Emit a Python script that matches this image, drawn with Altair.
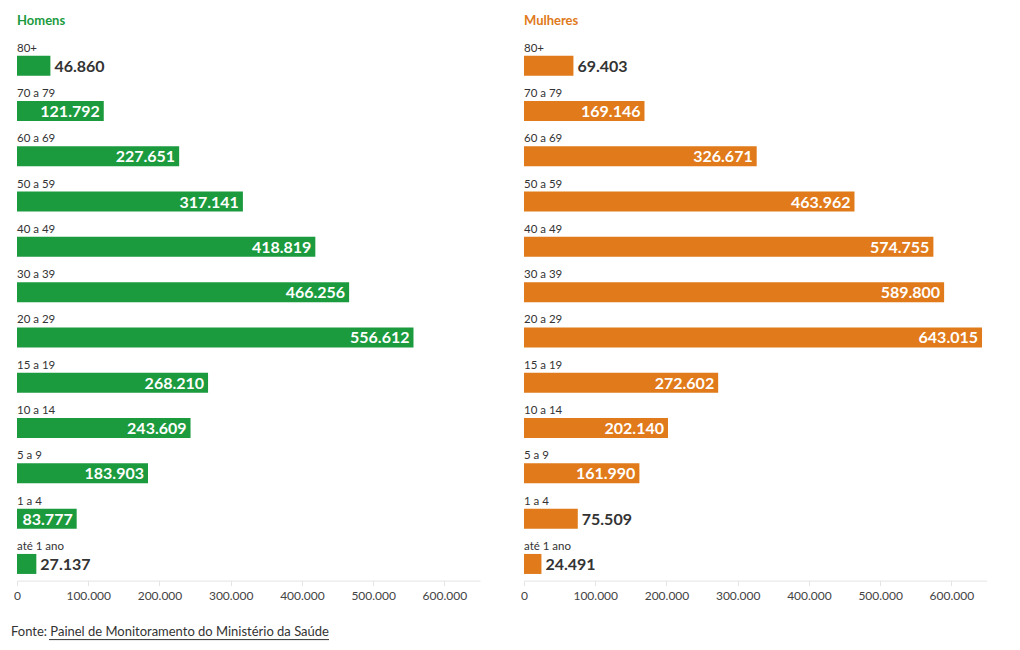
import altair as alt
import pandas as pd

ages = ["80+", "70 a 79", "60 a 69", "50 a 59", "40 a 49", "30 a 39",
        "20 a 29", "15 a 19", "10 a 14", "5 a 9", "1 a 4", "até 1 ano"]
homens = [46860, 121792, 227651, 317141, 418819, 466256,
          556612, 268210, 243609, 183903, 83777, 27137]
mulheres = [69403, 169146, 326671, 463962, 574755, 589800,
            643015, 272602, 202140, 161990, 75509, 24491]
titles = ["Homens", "Mulheres"]
fonte = ["Fonte: Painel de Monitoramento do Ministério da Saúde"]
tick_values = list(range(0, 650001, 50000))

GREEN = "#1b9a3e"
ORANGE = "#e07a1a"
FONT = "Lato"
STEP = 45.3
N = len(ages)
PLOT_H = STEP * N
W = 463


def fmt(v):
    return f"{v:,}".replace(",", ".")


def panel(values, title, color, footer=False):
    df = pd.DataFrame({
        "faixa": ages,
        "valor": values,
        "rotulo": [fmt(v) for v in values],
        "dentro": [v > 80000 for v in values],
    })
    y = alt.Y("faixa:N", sort=ages, axis=None,
              scale=alt.Scale(paddingInner=0, paddingOuter=0))
    x = alt.X("valor:Q",
              scale=alt.Scale(domain=[0, 650000], nice=False),
              axis=alt.Axis(values=tick_values,
                            labelExpr="datum.value % 100000 === 0 ? replace(format(datum.value, ','), ',', '.') : ''",
                            title=None, grid=False, labelFlush=False,
                            domainColor="#e4e4e4", tickColor="#e4e4e4",
                            tickSize=5, labelFont=FONT, labelFontSize=12,
                            labelColor="#444", labelPadding=5, offset=-6))
    base = alt.Chart(df)
    bars = base.mark_bar(height=20, color=color).encode(x=x, y=y)
    cat = base.mark_text(align="left", baseline="middle", dy=-17, fontSize=11.5,
                         font=FONT, color="#333").encode(
        x=alt.value(0), y=y, text="faixa:N")
    inside = base.transform_filter("datum.dentro").mark_text(
        align="right", baseline="middle", dx=-4, dy=1, fontSize=16,
        fontWeight="bold", font=FONT, color="white").encode(
        x="valor:Q", y=y, text="rotulo:N")
    outside = base.transform_filter("!datum.dentro").mark_text(
        align="left", baseline="middle", dx=4, dy=1, fontSize=16,
        fontWeight="bold", font=FONT, color="#333").encode(
        x="valor:Q", y=y, text="rotulo:N")
    layers = [bars, cat, inside, outside]
    if footer:
        fdf = pd.DataFrame({"t": fonte})
        ftxt = alt.Chart(fdf).mark_text(align="left", baseline="middle",
                                        fontSize=13, font=FONT, color="#333").encode(
            x=alt.value(-6), y=alt.value(PLOT_H + 45), text="t:N")
        uline = alt.Chart(fdf).mark_rule(color="#333", strokeWidth=1).encode(
            x=alt.value(32), x2=alt.value(312), y=alt.value(PLOT_H + 53))
        layers += [ftxt, uline]
    return alt.layer(*layers).properties(
        width=W, height=PLOT_H,
        title=alt.TitleParams(title, anchor="start", frame="group", color=color,
                              font=FONT, fontSize=13, fontWeight="bold",
                              baseline="bottom", offset=2))


chart = alt.hconcat(
    panel(homens, titles[0], GREEN, footer=True),
    panel(mulheres, titles[1], ORANGE),
    spacing=40,
).properties(
    padding={"left": 11, "top": 14, "right": 0, "bottom": 0},
    background="white",
).configure_view(stroke=None)

chart.save("out.html", embed_options={"renderer": "svg", "actions": False})
